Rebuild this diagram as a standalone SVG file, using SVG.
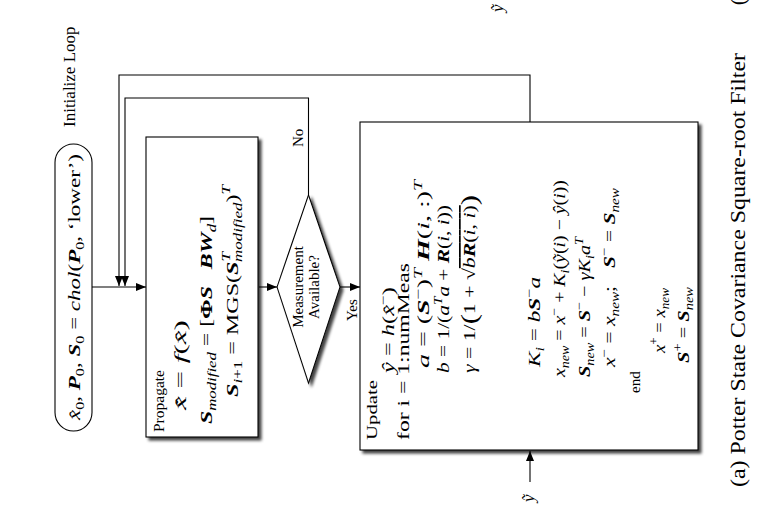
<svg xmlns="http://www.w3.org/2000/svg" width="776" height="528" viewBox="0 0 776 528">
<defs>
<marker id="ah" viewBox="0 0 10 8" refX="10" refY="4" markerWidth="10" markerHeight="8" markerUnits="userSpaceOnUse" orient="auto"><path d="M0,0 L10,4 L0,8 z" fill="#000"/></marker>
<filter id="sh" x="-10%" y="-10%" width="125%" height="125%"><feGaussianBlur in="SourceAlpha" stdDeviation="1.8"/><feOffset dx="-3" dy="3"/><feComponentTransfer><feFuncA type="linear" slope="0.75"/></feComponentTransfer><feMerge><feMergeNode/><feMergeNode in="SourceGraphic"/></feMerge></filter>
</defs>
<style>
.ln{fill:none;stroke:#000;stroke-width:1.1}
.box{fill:#fff;stroke:#000;stroke-width:1.1}
text{font-family:"Liberation Serif","Times New Roman",serif;fill:#000;font-size:17px}
.i{font-style:italic}
.b{font-weight:bold}
.bi{font-weight:bold;font-style:italic}
.s{font-size:12px}
.w{font-size:15px}
.cap{font-size:20px}
</style>
<rect width="776" height="528" fill="#fff"/>
<g transform="matrix(0,-1,1,0,0,528)">
<g id="connectors">
<path class="ln" d="M241,92 L241,146" marker-end="url(#ah)"/>
<path class="ln" d="M241,259 L241,277" marker-end="url(#ah)"/>
<path class="ln" d="M241,340 L241,360" marker-end="url(#ah)"/>
<path class="ln" d="M406,530 L453,530 L453,119 L242,119" marker-end="url(#ah)"/>
<path class="ln" d="M333,308.5 L430,308.5 L430,125 L242,125" marker-end="url(#ah)"/>
<path class="ln" d="M46,530 L77,530" marker-end="url(#ah)"/>
<text x="381" y="303" class="w">No</text>
<text x="207" y="357" class="w">Yes</text>
<text x="26" y="534" class="i" font-size="19">ỹ</text>
</g>
<g id="init-label"><text x="401" y="75" font-size="14">Initialize Loop</text></g>
<g id="start">
<rect class="box" x="97" y="55" width="287" height="37" rx="18.5"/>
<text x="241" y="80" text-anchor="middle" font-size="18" textLength="266" lengthAdjust="spacingAndGlyphs"><tspan class="i">x&#x302;</tspan><tspan class="s" dy="4">0</tspan><tspan dy="-4">,  </tspan><tspan class="bi">P</tspan><tspan class="s" dy="4">0</tspan><tspan dy="-4">,  </tspan><tspan class="bi">S</tspan><tspan class="s" dy="4">0</tspan><tspan dy="-4"> = </tspan><tspan class="i">chol</tspan><tspan>(</tspan><tspan class="bi">P</tspan><tspan class="s" dy="4">0</tspan><tspan dy="-4">, ‘lower’)</tspan></text>
</g>
<g id="propagate">
<rect class="box" x="91" y="146" width="300" height="112" filter="url(#sh)"/>
<text x="96" y="164" class="w" textLength="62" lengthAdjust="spacingAndGlyphs">Propagate</text>
<text x="118" y="186" textLength="90" lengthAdjust="spacingAndGlyphs"><tspan class="i">x&#x302;&#x307;</tspan><tspan> = </tspan><tspan class="i">f</tspan><tspan>(</tspan><tspan class="i">x&#x302;</tspan><tspan>)</tspan></text>
<text x="104" y="212" textLength="208" lengthAdjust="spacingAndGlyphs"><tspan class="bi">S</tspan><tspan class="s i" dy="4">modified</tspan><tspan dy="-4"> = [</tspan><tspan class="b">Φ</tspan><tspan class="bi">S</tspan><tspan class="bi" dx="12">B</tspan><tspan class="bi">W</tspan><tspan class="s i" dy="4">d</tspan><tspan dy="-4">]</tspan></text>
<text x="131" y="238" textLength="212" lengthAdjust="spacingAndGlyphs"><tspan class="bi">S</tspan><tspan class="s i" dy="4">i</tspan><tspan class="s">+1</tspan><tspan dy="-4"> = MGS(</tspan><tspan class="bi">S</tspan><tspan class="s i" dy="-8">T</tspan><tspan class="s i" dx="-7" dy="12">modified</tspan><tspan dy="-4">)</tspan><tspan class="s i" dy="-8">T</tspan></text>
</g>
<g id="decision">
<polygon class="box" points="145,308.5 241,277 333,308.5 241,340" filter="url(#sh)"/>
<text x="241" y="303" text-anchor="middle" class="w">Measurement</text>
<text x="241" y="319" text-anchor="middle" class="w">Available?</text>
</g>
<g id="update">
<rect class="box" x="78" y="360" width="328" height="338" filter="url(#sh)"/>
<text x="88" y="377" class="w" textLength="60" lengthAdjust="spacingAndGlyphs">Update</text>
<text x="155" y="394" textLength="86" lengthAdjust="spacingAndGlyphs"><tspan class="i">ŷ</tspan><tspan> = </tspan><tspan class="i">h</tspan><tspan>(</tspan><tspan class="i">x&#x302;</tspan><tspan class="s" dy="-7">−</tspan><tspan dy="7">)</tspan></text>
<text x="88" y="409" textLength="177" lengthAdjust="spacingAndGlyphs">for i = 1:numMeas</text>
<text x="160" y="429" textLength="188" lengthAdjust="spacingAndGlyphs"><tspan class="i">a</tspan><tspan> = (</tspan><tspan class="bi">S</tspan><tspan class="s" dy="-7">−</tspan><tspan dy="7">)</tspan><tspan class="s i" dy="-7">T</tspan><tspan dy="7"> </tspan><tspan class="bi">H</tspan><tspan>(</tspan><tspan class="i">i</tspan><tspan>, :)</tspan><tspan class="s i" dy="-7">T</tspan></text>
<text x="155" y="449" textLength="168" lengthAdjust="spacingAndGlyphs"><tspan class="i">b</tspan><tspan> = 1/(</tspan><tspan class="i">a</tspan><tspan class="s i" dy="-7">T</tspan><tspan class="i" dy="7">a</tspan><tspan> + </tspan><tspan class="bi">R</tspan><tspan>(</tspan><tspan class="i">i</tspan><tspan>, </tspan><tspan class="i">i</tspan><tspan>))</tspan></text>
<text x="155" y="475" textLength="178" lengthAdjust="spacingAndGlyphs"><tspan class="i">γ</tspan><tspan> = 1/</tspan><tspan font-size="24" dy="2">(</tspan><tspan dy="-2">1 + √</tspan><tspan style="text-decoration:overline"><tspan class="i">b</tspan><tspan class="bi">R</tspan><tspan>(</tspan><tspan class="i">i</tspan><tspan>, </tspan><tspan class="i">i</tspan><tspan>)</tspan></tspan><tspan font-size="24" dy="2">)</tspan></text>
<text x="161" y="540" textLength="90" lengthAdjust="spacingAndGlyphs"><tspan class="i">K</tspan><tspan class="s i" dy="4">i</tspan><tspan dy="-4"> = </tspan><tspan class="i">b</tspan><tspan class="bi">S</tspan><tspan class="s" dy="-7">−</tspan><tspan class="i" dy="7">a</tspan></text>
<text x="151" y="565" textLength="197" lengthAdjust="spacingAndGlyphs"><tspan class="i">x</tspan><tspan class="s i" dy="4">new</tspan><tspan dy="-4"> = </tspan><tspan class="i">x</tspan><tspan class="s" dy="-7">−</tspan><tspan dy="7"> + </tspan><tspan class="i">K</tspan><tspan class="s i" dy="4">i</tspan><tspan dy="-4">(</tspan><tspan class="i">ỹ</tspan><tspan>(</tspan><tspan class="i">i</tspan><tspan>) − </tspan><tspan class="i">ŷ</tspan><tspan>(</tspan><tspan class="i">i</tspan><tspan>))</tspan></text>
<text x="151" y="590" textLength="140" lengthAdjust="spacingAndGlyphs"><tspan class="bi">S</tspan><tspan class="s i" dy="4">new</tspan><tspan dy="-4"> = </tspan><tspan class="bi">S</tspan><tspan class="s" dy="-7">−</tspan><tspan dy="7"> − </tspan><tspan class="i">γK</tspan><tspan class="s i" dy="4">i</tspan><tspan class="i" dy="-4">a</tspan><tspan class="s i" dy="-7">T</tspan></text>
<text x="161" y="615" textLength="179" lengthAdjust="spacingAndGlyphs"><tspan class="i">x</tspan><tspan class="s" dy="-7">−</tspan><tspan dy="7"> = </tspan><tspan class="i">x</tspan><tspan class="s i" dy="4">new</tspan><tspan dy="-4">;    </tspan><tspan class="bi" dx="10">S</tspan><tspan class="s" dy="-7">−</tspan><tspan dy="7"> = </tspan><tspan class="bi">S</tspan><tspan class="s i" dy="4">new</tspan></text>
<text x="135" y="640" class="w">end</text>
<text x="175" y="665" textLength="65" lengthAdjust="spacingAndGlyphs"><tspan class="i">x</tspan><tspan class="s" dy="-7">+</tspan><tspan dy="7"> = </tspan><tspan class="i">x</tspan><tspan class="s i" dy="4">new</tspan></text>
<text x="165" y="689" textLength="76" lengthAdjust="spacingAndGlyphs"><tspan class="bi">S</tspan><tspan class="s" dy="-7">+</tspan><tspan dy="7"> = </tspan><tspan class="bi">S</tspan><tspan class="s i" dy="4">new</tspan></text>
</g>
<g id="caption">
<text x="41" y="745" class="cap" textLength="434" lengthAdjust="spacingAndGlyphs">(a) Potter State Covariance Square-root Filter</text>
<text x="523" y="745" class="cap">(</text>
<text x="516" y="503" class="i" font-size="18">ỹ</text>
</g>
</g>
</svg>
